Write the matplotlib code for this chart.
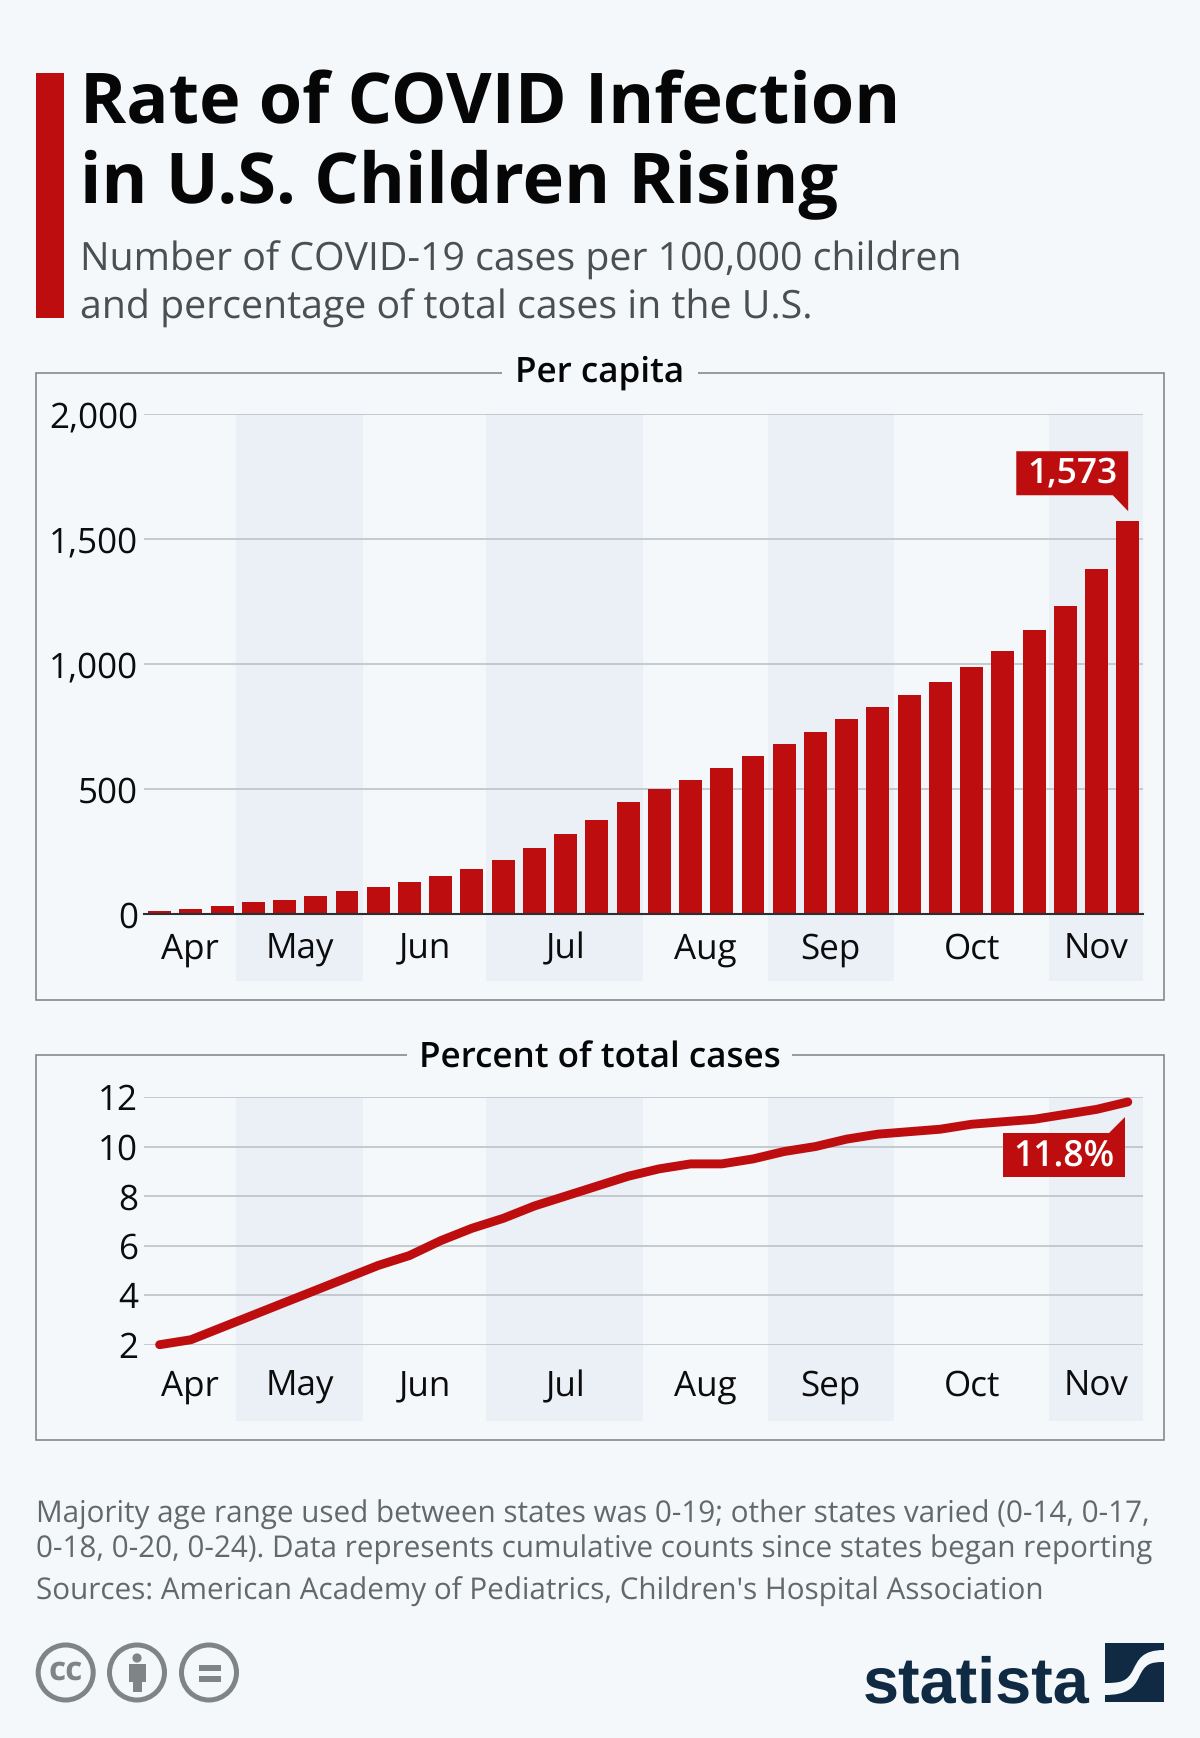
import matplotlib
matplotlib.use("Agg")
import matplotlib.pyplot as plt
from matplotlib.patches import Rectangle, Polygon, Circle, PathPatch
from matplotlib.path import Path
from matplotlib.ticker import FuncFormatter

W, H = 1200, 1738
plt.rcParams['font.family'] = ['Open Sans', 'DejaVu Sans']
plt.rcParams['text.hinting'] = 'no_hinting'
plt.rcParams['text.hinting_factor'] = 8

# ---------- data ----------
per_capita = [13, 21, 31, 46, 57, 73, 91, 109, 129, 153, 181, 217, 263, 318, 377, 446,
              500, 537, 583, 630, 679, 728, 779, 828, 874, 927, 986, 1053, 1135, 1233, 1381, 1573]
percent_total = [2.0, 2.2, 2.7, 3.2, 3.7, 4.2, 4.7, 5.2, 5.6, 6.2, 6.7, 7.1, 7.6, 8.0, 8.4, 8.8,
                 9.1, 9.3, 9.3, 9.5, 9.8, 10.0, 10.3, 10.5, 10.6, 10.7, 10.9, 11.0, 11.1, 11.3, 11.5, 11.8]
months = ['Apr', 'May', 'Jun', 'Jul', 'Aug', 'Sep', 'Oct', 'Nov']
month_centers = [0.97, 4.5, 8.5, 13, 17.47, 21.47, 26, 29.98]
band_ranges = [(2.95, 7), (10.96, 15.98), (19.98, 24), (28.97, 32)]
ticks_top = [0, 500, 1000, 1500, 2000]
ticks_bottom = [2, 4, 6, 8, 10, 12]

BG = '#f4f8fb'
BAND = '#ebf0f7'
RED = '#bd0d0e'
GRID = '#bcc2c6'
FRAME = '#7c8083'
NAVY = '#0f2a42'
ICON = '#7f8486'

fig = plt.figure(figsize=(W / 100, H / 100), dpi=100, facecolor=BG)


def make_axes(left, right, top, bottom):
    return fig.add_axes([left / W, 1 - bottom / H, (right - left) / W, (bottom - top) / H])


def style_axes(ax, yticks, ylim, band_bottom_px, top_px, bottom_px, pad):
    ax.set_facecolor('none')
    ax.set_xlim(-0.5, len(per_capita) - 0.5)
    ax.set_ylim(*ylim)
    for s in ax.spines.values():
        s.set_visible(False)
    ax.set_yticks(yticks)
    ax.set_xticks(month_centers)
    ax.set_xticklabels(months)
    ax.tick_params(axis='both', length=0, labelsize=25.2, labelcolor='#0c0c0c')
    ax.tick_params(axis='x', pad=pad)
    ax.tick_params(axis='y', pad=4.2)
    ax.yaxis.grid(True, color=GRID, lw=1.2)
    ax.set_axisbelow(True)
    frac = -(band_bottom_px - bottom_px) / (bottom_px - top_px)
    for a, b in band_ranges:
        ax.axvspan(a - 0.5, b - 0.5, ymin=frac, ymax=1, color=BAND, lw=0, zorder=0, clip_on=False)


# ---------- top panel ----------
ax1 = make_axes(144, 1143.4, 413.9, 913.9)
style_axes(ax1, ticks_top, (0, 2000), 981.2, 413.9, 913.9, 13.2)
ax1.bar(range(len(per_capita)), per_capita, width=0.735, color=RED, lw=0, zorder=2)
ax1.yaxis.set_major_formatter(FuncFormatter(lambda v, _: f'{int(v):,}'))
ax1.spines['bottom'].set_visible(True)
ax1.spines['bottom'].set_color('#2b2f33')
ax1.spines['bottom'].set_linewidth(1.5)
ax1.spines['bottom'].set_zorder(3)

# ---------- bottom panel ----------
ax2 = make_axes(144, 1143.4, 1097, 1344.7)
style_axes(ax2, ticks_bottom, (2, 12), 1420.7, 1097, 1344.7, 17.8)
ax2.plot(range(len(percent_total)), percent_total, color=RED, lw=6.4, zorder=3,
         solid_capstyle='round', solid_joinstyle='round', clip_on=False)

# ---------- overlay in pixel coordinates ----------
ov = fig.add_axes([0, 0, 1, 1], zorder=10)
ov.set_xlim(0, W)
ov.set_ylim(H, 0)
ov.axis('off')
ov.patch.set_alpha(0)


def to_px(ax, x, y):
    px, py = ax.transData.transform((x, y))
    return px, H - py


# title block
ov.add_patch(Rectangle((35.5, 73), 28.5, 245, color=RED, lw=0))
for txt, y in [('Rate of COVID Infection', 123.7), ('in U.S. Children Rising', 203.5)]:
    ov.text(80, y, txt, fontsize=50.5, fontweight='bold', color='#060606', va='baseline', ha='left')
for txt, y in [('Number of COVID-19 cases per 100,000 children', 271),
               ('and percentage of total cases in the U.S.', 319)]:
    ov.text(80.5, y, txt, fontsize=28.3, color='#4a4f52', va='baseline', ha='left')


# panel frames with a gap for the heading
def frame(left, right, top, bottom, gap0, gap1, title, base):
    ov.plot([gap0, left, left, right, right, gap1], [top, top, bottom, bottom, top, top],
            color=FRAME, lw=1.1, solid_joinstyle='miter', solid_capstyle='butt')
    ov.text(600, base, title, fontsize=25.2, fontweight='semibold', color='#060606', ha='center', va='baseline')


frame(36, 1164, 372.7, 1000, 502, 698, 'Per capita', 382)
frame(36, 1164, 1055, 1439.5, 407, 792, 'Percent of total cases', 1068)

# value callouts, anchored to the last data points
bx, by = to_px(ax1, len(per_capita) - 1, per_capita[-1])
ov.add_patch(Polygon([(bx - 111.5, by - 69.4), (bx + 0.4, by - 69.4), (bx + 0.4, by - 9.4), (bx - 15, by - 25.4),
                      (bx - 111.5, by - 25.4)], closed=True, color=RED, lw=0))
ov.text(bx - 55.5, by - 47, f'{per_capita[-1]:,}', color='white', fontsize=25.5, fontweight='semibold',
        ha='center', va='center')
lx, ly = to_px(ax2, len(percent_total) - 1, percent_total[-1])
ov.add_patch(Polygon([(lx - 3, ly + 15.3), (lx - 3, ly + 75.3), (lx - 125, ly + 75.3), (lx - 125, ly + 31.3),
                      (lx - 19, ly + 31.3)], closed=True, color=RED, lw=0))
ov.text(lx - 64, ly + 54.5, f'{percent_total[-1]}%', color='white', fontsize=25.6, fontweight='semibold',
        ha='center', va='center')

# footer
NOTE = '#63686b'
for txt, y in [('Majority age range used between states was 0-19; other states varied (0-14, 0-17,', 1522.5),
               ('0-18, 0-20, 0-24). Data represents cumulative counts since states began reporting', 1558),
               ("Sources: American Academy of Pediatrics, Children's Hospital Association", 1600)]:
    ov.text(36.5, y, txt, fontsize=21.3, color=NOTE, va='baseline', ha='left')

# licence icons
cy = 1672.5
for cx in (65.7, 137, 209):
    ov.add_patch(Circle((cx, cy), 27.5, fc='none', ec=ICON, lw=3.6))
ov.text(65.7, cy - 1, 'cc', fontsize=24, fontweight='bold', color=ICON, ha='center', va='center')
ov.add_patch(Circle((137, 1658), 4.6, color=ICON, lw=0))
ov.add_patch(Polygon([(128.5, 1664), (145.5, 1664), (145.5, 1682), (141.5, 1682), (141.5, 1692),
                      (132.5, 1692), (132.5, 1682), (128.5, 1682)], closed=True, color=ICON, lw=0))
ov.add_patch(Rectangle((198.5, 1664.5), 22, 6, color=ICON, lw=0))
ov.add_patch(Rectangle((198.5, 1675.5), 22, 6, color=ICON, lw=0))

# statista logo
ov.text(1089, 1702, 'statista', fontsize=46.6, fontweight='bold', color=NAVY, ha='right', va='baseline',
        family=['Liberation Sans Narrow', 'Liberation Sans', 'DejaVu Sans'])
ov.add_patch(Rectangle((1105, 1643), 59, 59, color=NAVY, lw=0))
swoosh = Path([(1164, 1650), (1142, 1650), (1138, 1660), (1133, 1670), (1127, 1682), (1120, 1683), (1105, 1683),
               (1105, 1695),
               (1127, 1695), (1134, 1688), (1139, 1677), (1145, 1664), (1150, 1662), (1164, 1662),
               (1164, 1650)],
              [Path.MOVETO, Path.CURVE4, Path.CURVE4, Path.CURVE4, Path.CURVE4, Path.CURVE4, Path.CURVE4,
               Path.LINETO,
               Path.CURVE4, Path.CURVE4, Path.CURVE4, Path.CURVE4, Path.CURVE4, Path.CURVE4,
               Path.CLOSEPOLY])
ov.add_patch(PathPatch(swoosh, fc=BG, ec='none'))

fig.savefig('out.png', dpi=100, facecolor=BG)
